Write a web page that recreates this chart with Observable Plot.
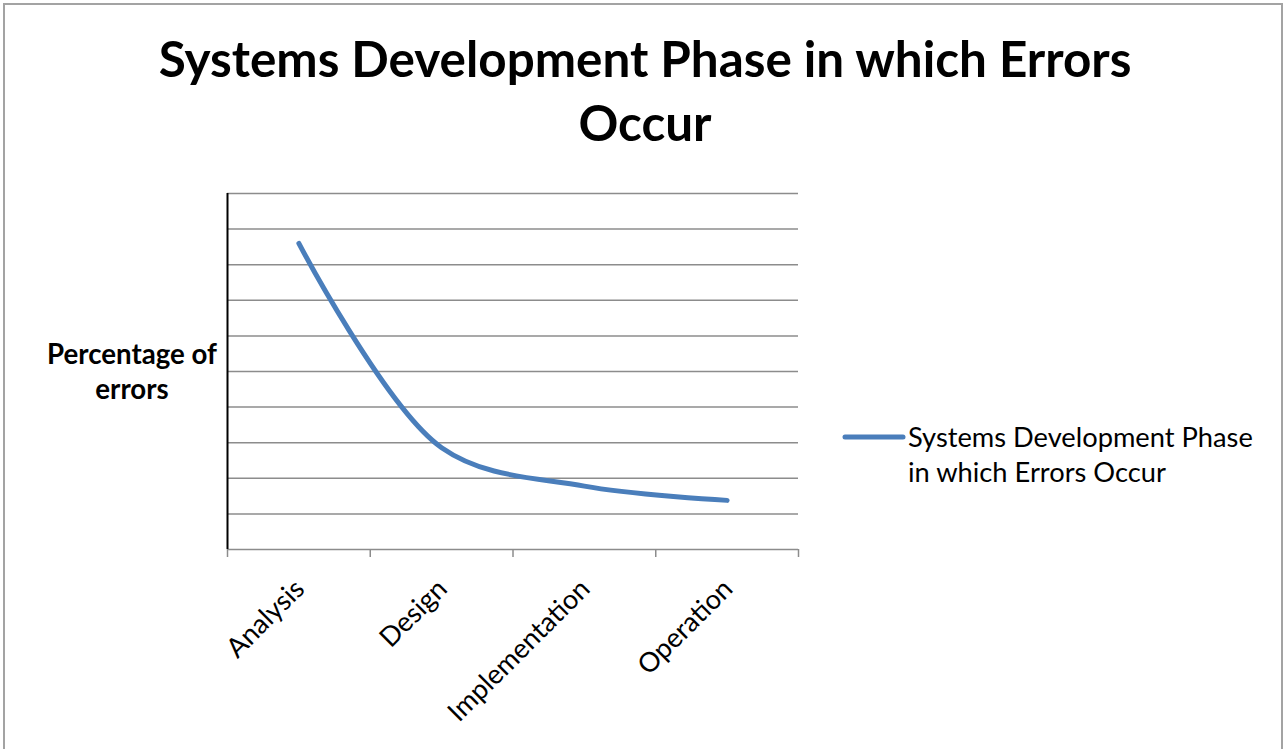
<!DOCTYPE html>
<html><head><meta charset="utf-8">
<script src="https://cdn.jsdelivr.net/npm/d3@7"></script>
<script src="https://cdn.jsdelivr.net/npm/@observablehq/plot@0.6"></script>
<style>
html,body{margin:0;padding:0;background:#fff;width:1284px;height:749px;overflow:hidden;}
#wrap{position:relative;width:1284px;height:749px;}
#frame{position:absolute;left:3px;top:3px;width:1280px;height:800px;border:2px solid #a3a3a3;box-sizing:border-box;}
#wrap svg{position:absolute;left:0;top:0;}
</style></head><body><div id="wrap"><div id="frame"></div></div>
<script>
// ---- data ----
const titleLines = ["Systems Development Phase in which Errors", "Occur"];
const yLabelLines = ["Percentage of", "errors"];
const categories = ["Analysis", "Design", "Implementation", "Operation"];
const values = [8.6, 2.86, 1.78, 1.38];
const yGrid = [1, 2, 3, 4, 5, 6, 7, 8, 9, 10];
const legendLines = ["Systems Development Phase", "in which Errors Occur"];

const FONT = "Lato, 'Open Sans', sans-serif";
const ctx = document.createElement("canvas").getContext("2d");
function fit(text, width, weight) {
  ctx.font = `${weight} 100px Lato`;
  return 100 * width / ctx.measureText(text).width;
}
const titleSize = fit(titleLines[0], 974, "bold");
const yLabSize = fit(yLabelLines[0], 170, "bold");
const legSize = fit(legendLines[0], 345, "normal");
const tickSize = fit(categories[0], 97, "normal");

const data = categories.map((c, i) => ({i, category: c, value: values[i]}));
const boundaries = d3.range(categories.length + 1).map(i => i - 0.5);

const lineColor = "#4a7ebb";
const gridColor = "#8c8c8c";

const chart = Plot.plot({
  width: 1284, height: 749,
  marginLeft: 227, marginRight: 486, marginTop: 193, marginBottom: 200,
  x: {type: "linear", domain: [-0.5, categories.length - 0.5], label: null},
  y: {domain: [0, 10], axis: null},
  style: {background: "transparent", fontFamily: FONT, overflow: "visible"},
  marks: [
    Plot.ruleY(yGrid, {stroke: gridColor, strokeWidth: 1.5}),
    Plot.ruleY([0], {stroke: gridColor, strokeWidth: 1.5}),
    Plot.axisX({ticks: boundaries, tickSize: 8, tickFormat: () => "", label: null, stroke: gridColor, strokeWidth: 1.5, strokeOpacity: 1}),
    Plot.ruleX([-0.5], {stroke: "#000", strokeWidth: 2}),
    Plot.line(data, {x: "i", y: "value", curve: "catmull-rom", stroke: lineColor, strokeWidth: 5, strokeLinecap: "round", strokeLinejoin: "round"}),
    Plot.text(data, {x: "i", y: () => 0, text: "category", rotate: -45, textAnchor: "end", lineAnchor: "middle", dx: 1, dy: 35, fontSize: tickSize, fill: "#000"})
  ]
});
document.getElementById("wrap").appendChild(chart);

// overlay: title, y label, legend
const ov = d3.select("#wrap").append("svg").attr("width", 1284).attr("height", 749)
  .style("font-family", FONT);
ov.selectAll("text.title").data(titleLines).join("text")
  .attr("x", 645).attr("y", (d, i) => 77 + i * 64)
  .attr("text-anchor", "middle").attr("font-weight", "bold")
  .attr("font-size", titleSize).attr("fill", "#000").text(d => d);
ov.selectAll("text.ylab").data(yLabelLines).join("text")
  .attr("x", 132).attr("y", (d, i) => 364 + i * 35)
  .attr("text-anchor", "middle").attr("font-weight", "bold")
  .attr("font-size", yLabSize).attr("fill", "#000").text(d => d);
ov.append("line").attr("x1", 845).attr("x2", 903).attr("y1", 437).attr("y2", 437)
  .attr("stroke", lineColor).attr("stroke-width", 5).attr("stroke-linecap", "round");
ov.selectAll("text.leg").data(legendLines).join("text")
  .attr("x", 908).attr("y", (d, i) => 447 + i * 35)
  .attr("font-size", legSize).attr("fill", "#000").text(d => d);
</script>
</body></html>
